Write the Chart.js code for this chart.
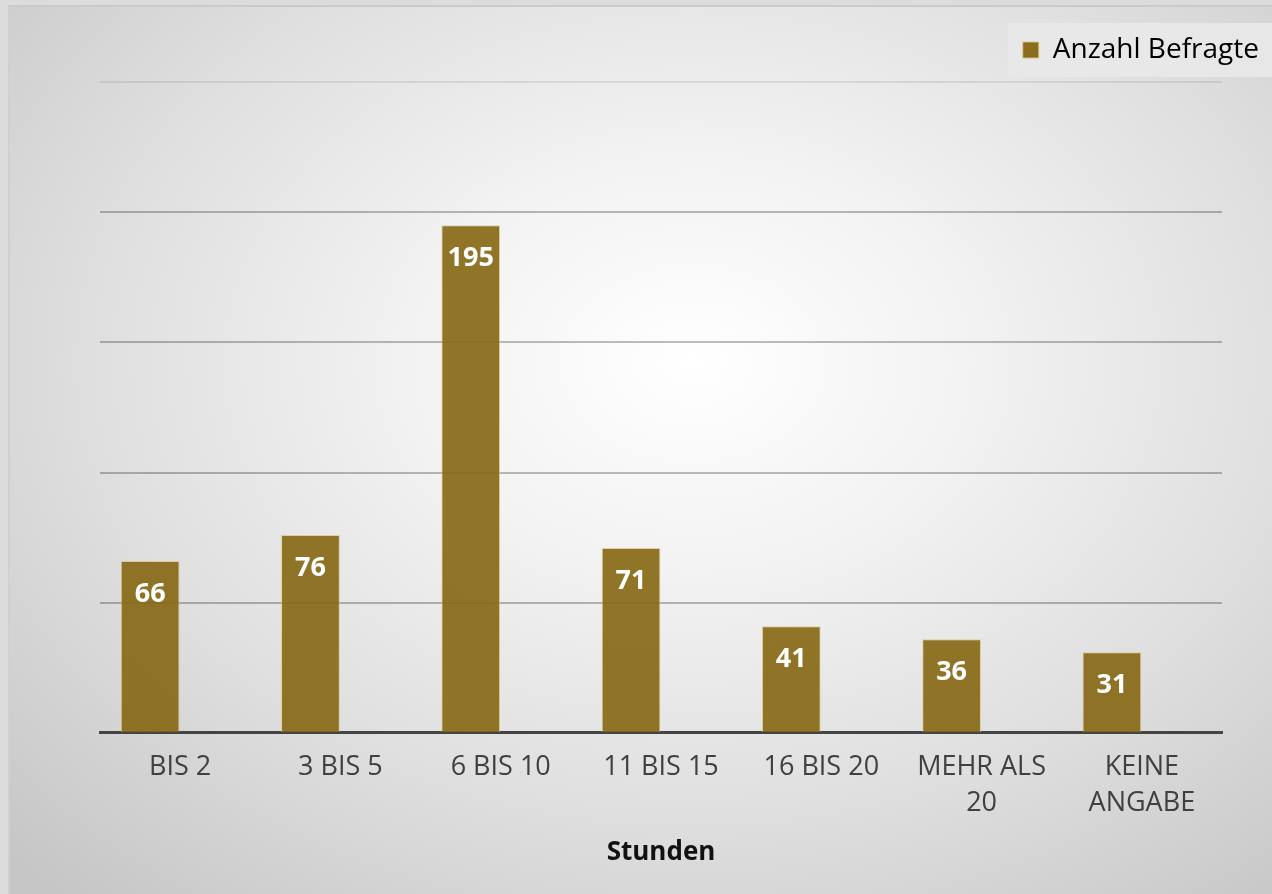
<!DOCTYPE html>
<html>
<head>
<meta charset="utf-8">
<script src="https://cdn.jsdelivr.net/npm/chart.js@4"></script>
<style>
  html, body { margin: 0; padding: 0; background: #dcdcdc; overflow: hidden; width: 1272px; height: 894px; }
  #wrap {
    position: absolute; left: 8px; top: 5px; width: 1264px; height: 889px; overflow: hidden;
    border-top: 2px solid #cacaca; border-left: 2px solid #d0d0d0;
    background: radial-gradient(ellipse 75% 80% at 54% 40%, #ffffff 0%, #f2f2f2 30%, #dedede 65%, #c6c6c6 100%);
  }
  #chart { position: absolute; left: -10px; top: -7px; }
</style>
</head>
<body>
<div id="wrap"><canvas id="chart" width="1291" height="894"></canvas></div>
<script>
// Chart data
const categories = ['BIS 2', '3 BIS 5', '6 BIS 10', '11 BIS 15', '16 BIS 20', ['MEHR ALS', '20'], ['KEINE', 'ANGABE']];
const respondents = [66, 76, 195, 71, 41, 36, 31];
// empty second slot per category (the bars sit left of the label, as in the original)
const emptySlot = [null, null, null, null, null, null, null];
const seriesLabel = 'Anzahl Befragte';
const axisTitle = 'Stunden';

const FONT = "'Open Sans', 'Noto Sans', sans-serif";

// Value labels inside the top of each bar
const barLabels = {
  id: 'barLabels',
  afterDatasetsDraw(chart) {
    const ctx = chart.ctx;
    const meta = chart.getDatasetMeta(0);
    ctx.save();
    ctx.fillStyle = '#ffffff';
    ctx.font = 'bold 27px ' + FONT;
    ctx.textAlign = 'center';
    ctx.textBaseline = 'middle';
    meta.data.forEach((bar, i) => {
      ctx.fillText(respondents[i], bar.x, bar.y + 33);
    });
    ctx.restore();
  }
};

// Light panel behind the legend
const legendPanel = {
  id: 'legendPanel',
  beforeDraw(chart) {
    const lg = chart.legend;
    if (!lg || !lg.legendHitBoxes.length) return;
    const hb = lg.legendHitBoxes[0];
    const cy = hb.top + hb.height / 2;
    const ctx = chart.ctx;
    ctx.save();
    ctx.fillStyle = 'rgba(232,232,232,0.95)';
    ctx.fillRect(hb.left - 15, cy - 27, chart.width - hb.left + 15, 54);
    ctx.restore();
  }
};

new Chart(document.getElementById('chart'), {
  type: 'bar',
  data: {
    labels: categories,
    datasets: [{
      label: seriesLabel,
      data: respondents,
      backgroundColor: 'rgba(133,103,19,0.9)',
      borderColor: 'rgba(215,195,130,0.7)',
      borderWidth: 1,
      barPercentage: 0.98,
      categoryPercentage: 0.748
    }, {
      label: '',
      data: emptySlot,
      barPercentage: 0.98,
      categoryPercentage: 0.748
    }]
  },
  options: {
    responsive: false,
    animation: false,
    layout: { padding: { left: 100, right: 0, top: 4, bottom: 22 } },
    plugins: {
      legend: {
        position: 'top',
        align: 'end',
        labels: {
          font: { family: FONT, size: 28 },
          color: '#404040',
          boxWidth: 16,
          boxHeight: 16,
          padding: 32,
          generateLabels: () => [{
            text: seriesLabel,
            fillStyle: 'rgba(133,103,19,0.95)',
            strokeStyle: 'rgba(215,195,130,0.9)',
            lineWidth: 1,
            datasetIndex: 0
          }]
        }
      },
      tooltip: { enabled: false }
    },
    scales: {
      x: {
        grid: { display: false },
        border: { display: true, color: '#444444', width: 3 },
        ticks: {
          font: { family: FONT, size: 27, lineHeight: 1.35 },
          color: '#404040',
          maxRotation: 0,
          padding: 8
        },
        title: {
          display: true,
          text: axisTitle,
          font: { family: FONT, size: 26, weight: 'bold' },
          color: '#111111',
          padding: { top: 7 }
        }
      },
      xTop: {
        position: 'top',
        display: true,
        grid: { display: false },
        ticks: { display: false },
        border: { display: false },
        afterFit: (s) => { s.height = 8; }
      },
      y: {
        min: 0,
        max: 250,
        ticks: { stepSize: 50, display: false },
        border: { display: false },
        grid: {
          drawTicks: false,
          lineWidth: 2,
          color: (c) => c.tick && c.tick.value === 250 ? 'rgba(0,0,0,0.08)' : 'rgba(0,0,0,0.26)'
        }
      },
      yRight: {
        position: 'right',
        display: true,
        grid: { display: false },
        ticks: { display: false },
        border: { display: false },
        afterFit: (s) => { s.width = 69; }
      }
    }
  },
  plugins: [legendPanel, barLabels]
});
</script>
</body>
</html>
